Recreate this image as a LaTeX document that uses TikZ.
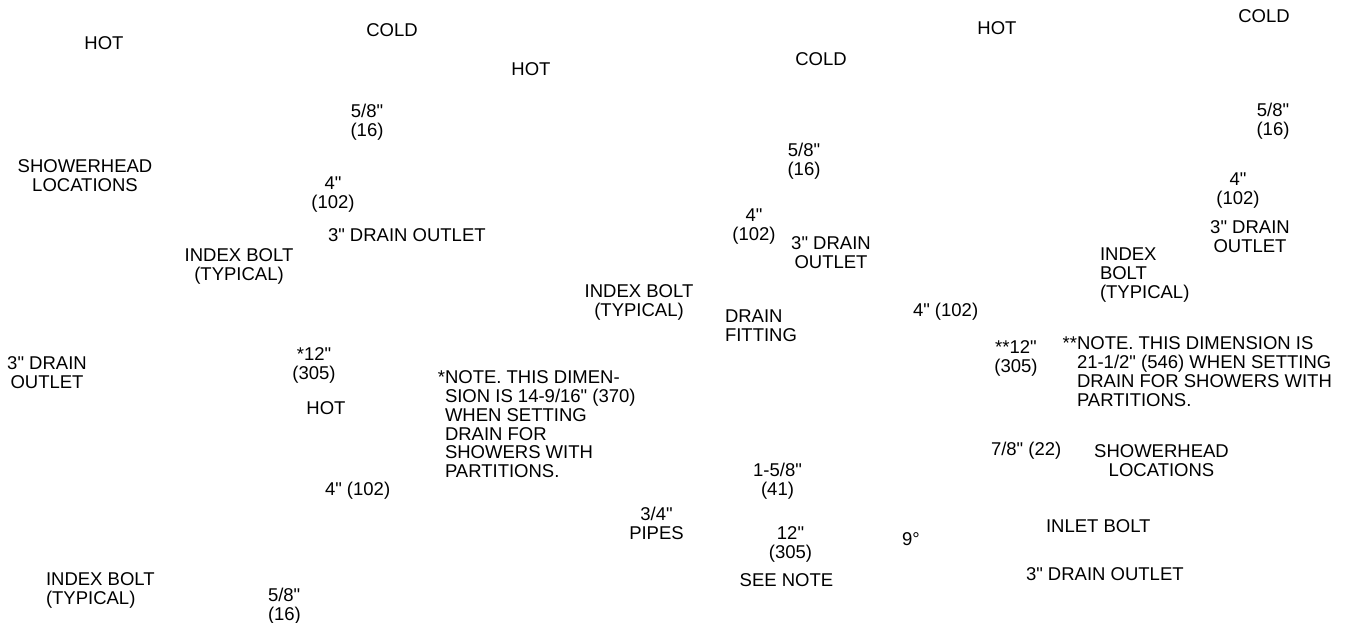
\documentclass[tikz,border=0pt]{standalone}
\usepackage{fontspec}
\setmainfont{Liberation Sans}[Ligatures=TeXOff]
\newcommand{\lblfont}{\fontsize{18.5pt}{18.7pt}\selectfont}
\tikzset{
  lbl/.style={inner sep=0pt, outer sep=0pt, font=\lblfont},
  tc/.style={lbl, anchor=north, align=center},
  tl/.style={lbl, anchor=north west, align=left}
}
\begin{document}
\begin{tikzpicture}[x=1pt,y=-1pt]
\useasboundingbox (0,0) rectangle (1349,622);
% top row
\node[tc] (hot1) at (104,37) {HOT};
\node[tc] (cold1) at (392,24) {COLD};
\node[tc] (hot2) at (531,63) {HOT};
\node[tc] (cold2) at (821,53) {COLD};
\node[tc] (hot3) at (997,22) {HOT};
\node[tc] (cold3) at (1264,10) {COLD};
% left view
\node[tc] (d58a) at (367,104) {5/8"\\(16)};
\node[tc] (shwa) at (85,160) {SHOWERHEAD\\LOCATIONS};
\node[tc] (d4a) at (333,177) {4"\\(102)};
\node[tl] (dra) at (328,229) {3" DRAIN OUTLET};
\node[tc] (ibta) at (239,249) {INDEX BOLT\\(TYPICAL)};
\node[tc] (drb) at (47,357) {3" DRAIN\\OUTLET};
\node[tc] (d12a) at (314,348) {*12"\\(305)};
\node[tc] (hot4) at (326,402) {HOT};
\node[tl] (notea) at (445,371) {\llap{*}NOTE. THIS DIMEN-\\SION IS 14-9/16" (370)\\WHEN SETTING\\DRAIN FOR\\SHOWERS WITH\\PARTITIONS.};
\node[tl] (d4b) at (325,482) {4" (102)};
\node[tl] (ibtb) at (46,573) {INDEX BOLT\\(TYPICAL)};
\node[tl] (d58b) at (268,588) {5/8"\\(16)};
% middle view
\node[tc] (ibtc) at (639,285) {INDEX BOLT\\(TYPICAL)};
\node[tc] (d58c) at (804,143) {5/8"\\(16)};
\node[tc] (d4c) at (754,209) {4"\\(102)};
\node[tc] (drc) at (831,237) {3" DRAIN\\OUTLET};
\node[tl] (dfit) at (725,310) {DRAIN\\FITTING};
\node[tc] (d158) at (777.5,463) {1-5/8"\\(41)};
\node[tc] (pipes) at (656.5,507) {3/4"\\PIPES};
\node[tc] (d12b) at (790.5,527) {12"\\(305)};
\node[tc] (seen) at (786.5,574) {SEE NOTE};
% right view
\node[tl] (d4d) at (913,303) {4" (102)};
\node[tl] (ibtd) at (1100,248) {INDEX\\BOLT\\(TYPICAL)};
\node[tc] (d58d) at (1273,103) {5/8"\\(16)};
\node[tc] (d4e) at (1238,173) {4"\\(102)};
\node[tc] (drd) at (1250,221) {3" DRAIN\\OUTLET};
\node[tc] (d12c) at (1016,341) {**12"\\(305)};
\node[tl] (noteb) at (1077,337) {\llap{**}NOTE. THIS DIMENSION IS\\21-1/2" (546) WHEN SETTING\\DRAIN FOR SHOWERS WITH\\PARTITIONS.};
\node[tl] (d78) at (991,442) {7/8" (22)};
\node[tc] (shwb) at (1161.5,445) {SHOWERHEAD\\LOCATIONS};
\node[tl] (deg) at (902,533) {9°};
\node[tl] (inlet) at (1046,520) {INLET BOLT};
\node[tl] (dre) at (1026,568) {3" DRAIN OUTLET};
\end{tikzpicture}
\end{document}
